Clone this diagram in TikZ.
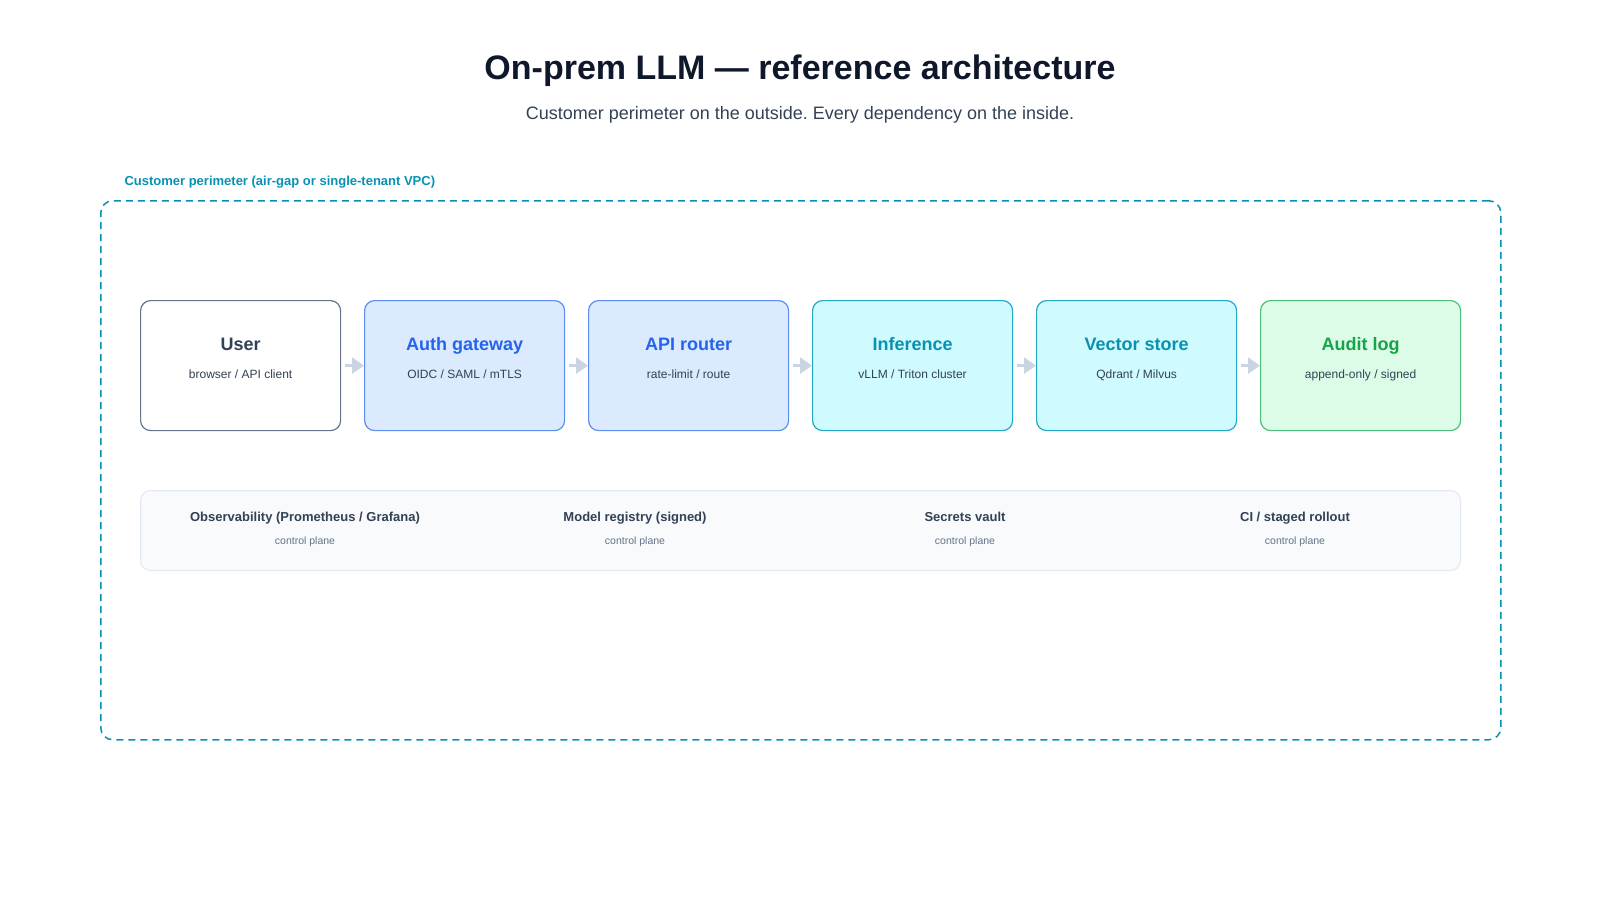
\documentclass[tikz,border=0pt]{standalone}
\usepackage{fontspec}
\setmainfont{Liberation Sans}
\usetikzlibrary{arrows.meta}
\frenchspacing
\definecolor{ttl}{HTML}{0F172A}
\definecolor{sub}{HTML}{334155}
\definecolor{muted}{HTML}{64748B}
\definecolor{peri}{HTML}{0891B2}
\definecolor{bfill}{HTML}{DBEAFE}\definecolor{bdraw}{HTML}{5B8DEF}\definecolor{btxt}{HTML}{2563EB}
\definecolor{cfill}{HTML}{CFFAFE}\definecolor{cdraw}{HTML}{22A8C8}\definecolor{ctxt}{HTML}{0891B2}
\definecolor{gfill}{HTML}{DCFCE7}\definecolor{gdraw}{HTML}{4CC07A}\definecolor{gtxt}{HTML}{16A34A}
\definecolor{arr}{HTML}{CBD5E1}
\definecolor{band}{HTML}{F8FAFC}\definecolor{bandd}{HTML}{E2E8F0}
\begin{document}
\begin{tikzpicture}[x=1pt,y=-1pt,
  box/.style={draw,line width=1.2pt,rounded corners=10pt,minimum width=200pt,minimum height=130pt,anchor=north west},
  ttext/.style={font=\bfseries\fontsize{18}{20}\selectfont,anchor=base},
  stext/.style={font=\fontsize{12}{14}\selectfont,text=sub,anchor=base},
  flow/.style={arr,line width=3pt,-{Triangle[length=12pt,width=16pt]}},
  cptitle/.style={font=\bfseries\fontsize{13}{15}\selectfont,text=sub,anchor=base},
  cpsub/.style={font=\fontsize{10.5}{12}\selectfont,text=muted,anchor=base}]
\useasboundingbox (0,0) rectangle (1600,900);
\node[font=\bfseries\fontsize{34}{40}\selectfont,text=ttl] (title) at (800,71) {On-prem LLM — reference architecture};
\node[font=\fontsize{18}{22}\selectfont,text=sub] (subtitle) at (800,115) {Customer perimeter on the outside. Every dependency on the inside.};
\node[font=\bfseries\fontsize{13}{15}\selectfont,text=peri,anchor=west] (plabel) at (121,182) {Customer perimeter (air-gap or single-tenant VPC)};
\node[draw=peri,line width=1.5pt,dash pattern=on 7pt off 5pt,rounded corners=12pt,minimum width=1400pt,minimum height=539pt,anchor=north west] (perim) at (100,200) {};
\node[box,draw=muted,fill=white] (user) at (140,300) {};
\node[box,draw=bdraw,fill=bfill] (auth) at (364,300) {};
\node[box,draw=bdraw,fill=bfill] (api) at (588,300) {};
\node[box,draw=cdraw,fill=cfill] (inf) at (812,300) {};
\node[box,draw=cdraw,fill=cfill] (vec) at (1036,300) {};
\node[box,draw=gdraw,fill=gfill] (aud) at (1260,300) {};
\foreach \n/\t/\s/\c in {user/User/browser \slash{} API client/sub, auth/Auth gateway/OIDC \slash{} SAML \slash{} mTLS/btxt, api/API router/rate-limit \slash{} route/btxt, inf/Inference/vLLM \slash{} Triton cluster/ctxt, vec/Vector store/Qdrant \slash{} Milvus/ctxt, aud/Audit log/append-only \slash{} signed/gtxt}{
  \node[ttext,text=\c] (\n-t) at ([yshift=-50pt]\n.north) {\t};
  \node[stext] (\n-s) at ([yshift=-78pt]\n.north) {\s};
}
\foreach \a/\b in {user/auth,auth/api,api/inf,inf/vec,vec/aud}
  \draw[flow] ([xshift=4pt]\a.east) -- (\b.west);
\node[draw=bandd,fill=band,line width=1pt,rounded corners=10pt,minimum width=1320pt,minimum height=80pt,anchor=north west] (cp) at (140,490) {};
\foreach \n/\x/\t in {obs/305/Observability (Prometheus \slash{} Grafana), reg/635/Model registry (signed), sec/965/Secrets vault, ci/1295/CI \slash{} staged rollout}{
  \node[cptitle] (\n) at (\x,521) {\t};
  \node[cpsub] (\n-s) at (\x,544) {control plane};
}
\end{tikzpicture}
\end{document}
